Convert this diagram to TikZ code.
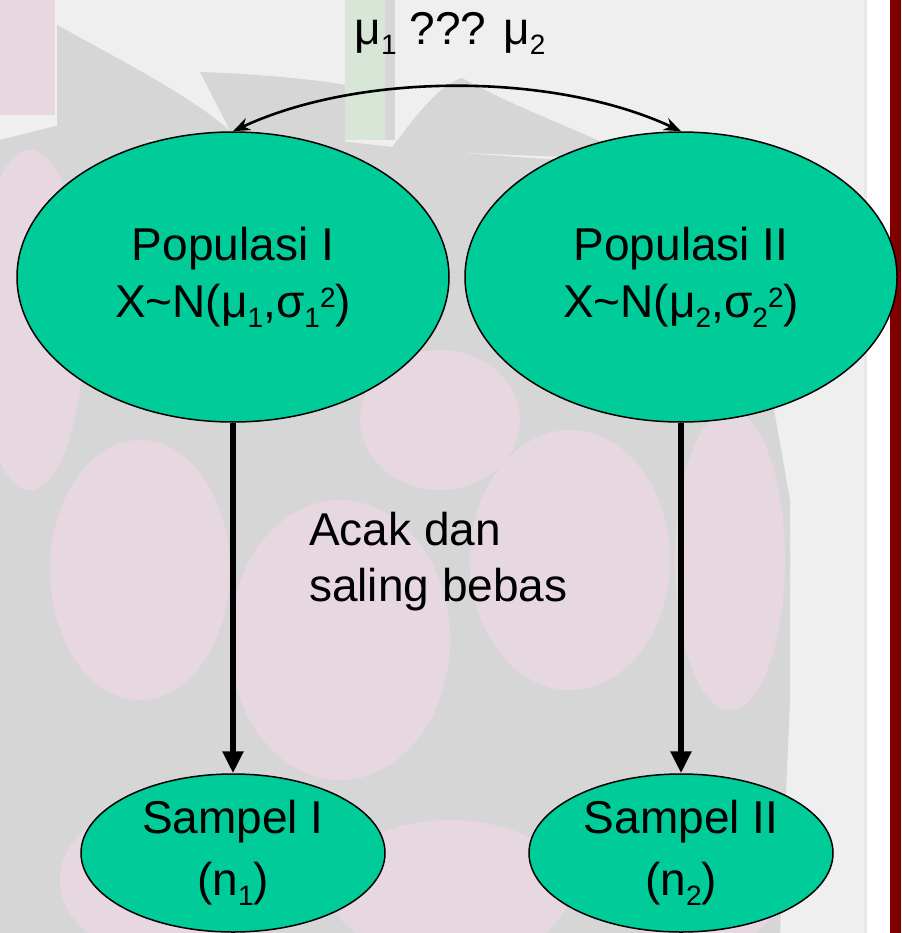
\documentclass[tikz,border=0pt]{standalone}
\usepackage{fontspec}
\setmainfont{Liberation Sans}
\usetikzlibrary{shapes.geometric,arrows.meta}
\definecolor{bgbase}{HTML}{EFEFEF}
\definecolor{bggray}{HTML}{D6D6D6}
\definecolor{bgpink}{HTML}{E6D7E0}
\definecolor{bggreen}{HTML}{D8E6D8}
\definecolor{barred}{HTML}{800000}
\definecolor{nodegreen}{HTML}{00CC99}
\newcommand{\lowr}[1]{\raisebox{-10pt}{\fontsize{28}{28}\selectfont #1}}
\newcommand{\upr}[1]{\raisebox{10pt}{\fontsize{28}{28}\selectfont #1}}
\tikzset{
  bigell/.style={ellipse, draw=black, line width=1.5pt, fill=nodegreen, minimum width=432pt, minimum height=290pt, inner sep=0pt, align=center, font=\fontsize{46}{57}\selectfont},
  smallell/.style={ellipse, draw=black, line width=1.5pt, fill=nodegreen, minimum width=304pt, minimum height=158pt, inner sep=0pt, align=center, font=\fontsize{46}{62}\selectfont},
  lbl/.style={inner sep=0pt, font=\fontsize{46}{56}\selectfont},
  downarrow/.style={line width=6pt, -{Triangle[length=22pt,width=20pt]}},
  curvarr/.style={line width=2.6pt, {Stealth[length=17pt,width=13pt]}-{Stealth[length=17pt,width=13pt]}}
}
\begin{document}
\begin{tikzpicture}[x=1pt,y=-1pt]
\useasboundingbox (0,0) rectangle (901,933);
% background
\fill[bgbase] (0,0) rectangle (866,933);
\fill[bggray] (0,140) -- (60,125) -- (200,150) -- (330,140) -- (420,150) -- (560,160) -- (680,190) -- (760,330) -- (790,500) -- (790,700) -- (780,933) -- (0,933) -- cycle;
\fill[bggray] (57,25) .. controls (120,60) and (200,100) .. (240,140) -- (57,140) -- cycle;
\fill[bggray] (200,72) .. controls (260,74) and (320,80) .. (345,85) -- (345,150) -- (240,150) -- cycle;
\fill[bggray] (390,150) .. controls (420,110) and (440,85) .. (462,78) .. controls (520,110) and (580,130) .. (640,160) -- cycle;
\fill[bggreen] (345,0) rectangle (385,140);
\fill[bggray] (385,0) rectangle (395,140);
\fill[bgpink] (0,0) rectangle (55,115);
\fill[bgpink] (30,320) ellipse (55pt and 170pt);
\fill[bgpink] (140,570) ellipse (90pt and 130pt);
\fill[bgpink] (340,640) ellipse (110pt and 140pt);
\fill[bgpink] (570,560) ellipse (100pt and 130pt);
\fill[bgpink] (730,560) ellipse (55pt and 150pt);
\fill[bgpink] (170,880) ellipse (110pt and 80pt);
\fill[bgpink] (450,890) ellipse (120pt and 70pt);
\fill[bgpink] (700,890) ellipse (80pt and 60pt);
\fill[bgpink] (440,420) ellipse (80pt and 70pt);
\fill[white] (866,0) rectangle (890,933);
\fill[bggray!60] (864,0) rectangle (867,933);
\fill[barred] (890,0) rectangle (901,933);
% nodes
\node[bigell] (p1) at (233,277) {Populasi I\\X\char"007EN(μ\lowr{1},σ\lowr{1}\upr{2})};
\node[bigell] (p2) at (681,277) {Populasi II\\X\char"007EN(μ\lowr{2},σ\lowr{2}\upr{2})};
\node[smallell] (s1) at (233,853) {Sampel I\\(n\lowr{1})};
\node[smallell] (s2) at (681,853) {Sampel II\\(n\lowr{2})};
\node[lbl, anchor=base] (top) at (450,45) {μ\lowr{1} ??? μ\lowr{2}};
\node[lbl, anchor=north west, align=left] (acak) at (309,512) {Acak dan\\saling bebas};
% connectors
\draw[curvarr] (p1.north) .. controls (360,72) and (554,72) .. (p2.north);
\draw[downarrow] (p1.south) -- (s1.north);
\draw[downarrow] (p2.south) -- (s2.north);
\end{tikzpicture}
\end{document}
